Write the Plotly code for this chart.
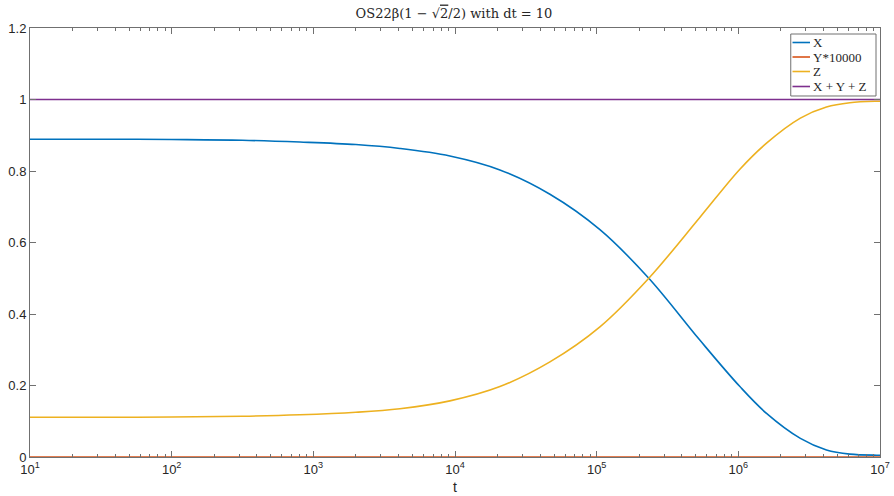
import plotly.graph_objects as go

# values (x positions as log10(t))
logt = [1.0, 1.5, 2.0, 2.5, 2.905, 3.3, 3.611, 3.964, 4.317, 4.670, 5.023, 5.368,
        5.728, 6.011, 6.199, 6.438, 6.622, 6.787, 6.975, 7.0]
x_vals = [0.889, 0.889, 0.888, 0.886, 0.881, 0.874, 0.863, 0.842, 0.803, 0.735, 0.636, 0.500,
          0.327, 0.197, 0.122, 0.052, 0.0196, 0.008, 0.005, 0.005]
z_vals = [0.111, 0.111, 0.112, 0.114, 0.118, 0.125, 0.135, 0.157, 0.197, 0.266, 0.364, 0.500,
          0.670, 0.805, 0.878, 0.948, 0.979, 0.991, 0.995, 0.995]

logt_flat = [1.0, 7.0]
y10000_vals = [0.0, 0.0]
sum_vals = [1.0, 1.0]

names = ["X", "Y*10000", "Z", "X + Y + Z"]
colors = ["#0072BD", "#D95319", "#EDB120", "#7E2F8E"]

series = [(logt, x_vals), (logt_flat, y10000_vals), (logt, z_vals), (logt_flat, sum_vals)]

fig = go.Figure()
for name, (lt, vals), c in zip(names, series, colors):
    fig.add_trace(go.Scatter(x=[10 ** v for v in lt], y=vals, mode="lines", name=name,
                             line=dict(color=c, width=1.6, shape="spline", smoothing=1.0),
                             showlegend=False))

major = [10 ** k for k in range(1, 8)]
ticktext = ["10<sup>%d</sup>" % k for k in range(1, 8)]
minor_vals = [m * 10 ** k for k in range(1, 7) for m in range(2, 10)]

axc = "#707070"
axis_common = dict(showline=True, linecolor=axc, linewidth=1, mirror="ticks",
                   ticks="inside", tickcolor=axc, showgrid=False, zeroline=False,
                   automargin=False,
                   tickfont=dict(family="Liberation Sans, Arial", size=13, color="#262626"))

fig.update_xaxes(type="log", range=[1, 7], tickmode="array", tickvals=major, ticktext=ticktext,
                 ticklen=6,
                 minor=dict(tickmode="array", tickvals=minor_vals, ticks="inside", ticklen=3,
                            tickcolor=axc, showgrid=False),
                 title=dict(text="t", font=dict(family="Liberation Sans, Arial", size=14, color="#262626"),
                            standoff=6),
                 **axis_common)
fig.update_yaxes(range=[0, 1.2], tickmode="array", tickvals=[0, 0.2, 0.4, 0.6, 0.8, 1, 1.2],
                 ticktext=["0", "0.2", "0.4", "0.6", "0.8", "1", "1.2"], ticklen=6, **axis_common)

# legend box drawn in plot-area coordinates (matches the reference's compact box)
lx0, lx1, ly0, ly1 = 0.895, 0.9953, 0.8415, 0.986
item_y = [(457 - py) / 429 for py in (42.5, 57.0, 71.5, 86.5)]
seg_x0, seg_x1, txt_x = (792.5 - 30) / 850, (810 - 30) / 850, (811 - 30) / 850
shapes = [dict(type="rect", xref="paper", yref="paper", x0=lx0, x1=lx1, y0=ly0, y1=ly1,
               line=dict(color=axc, width=1), fillcolor="white", layer="above")]
annotations = []
for txt, c, yy in zip(names, colors, item_y):
    shapes.append(dict(type="line", xref="paper", yref="paper", x0=seg_x0, x1=seg_x1, y0=yy, y1=yy,
                       line=dict(color=c, width=1.6), layer="above"))
    annotations.append(dict(xref="paper", yref="paper", x=txt_x, y=yy, text=txt, showarrow=False,
                            xanchor="left", yanchor="middle",
                            font=dict(family="Liberation Serif, serif", size=13, color="#262626")))

fig.update_layout(
    width=894, height=496,
    margin=dict(l=30, r=14, t=28, b=39),
    paper_bgcolor="white", plot_bgcolor="white",
    title=dict(text="OS22β(1 − √<span style='text-decoration:overline'>2</span>/2) with dt = 10",
               x=454 / 894, xanchor="center", y=1 - 13 / 496, yanchor="middle",
               font=dict(family="DejaVu Serif, serif", size=13, color="#262626")),
    shapes=shapes, annotations=annotations, showlegend=False,
)

fig.write_html("out.html")
